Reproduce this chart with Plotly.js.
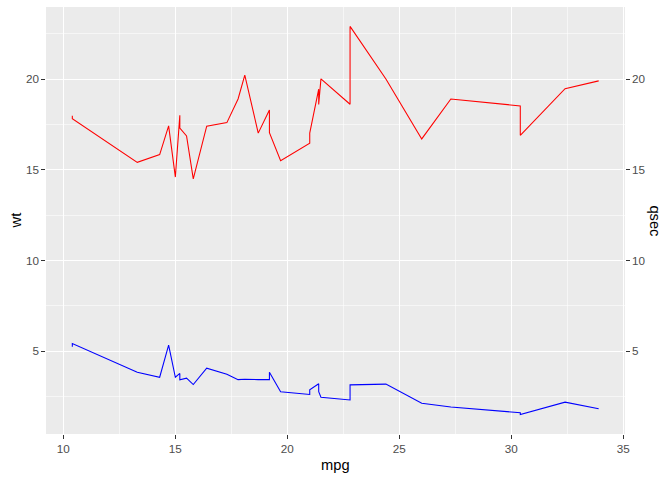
<!DOCTYPE html>
<html>
<head>
<meta charset="utf-8">
<script src="https://cdn.plot.ly/plotly-3.0.1.min.js"></script>
<style>
  html, body { margin: 0; padding: 0; background: #fff; }
  #plot { width: 672px; height: 480px; }
</style>
</head>
<body>
<div id="plot"></div>
<script>
// mtcars, ordered by mpg (geom_line sorts on x)
let mpg  = [10.4, 10.4, 13.3, 14.3, 14.7, 15.0, 15.2, 15.2, 15.5, 15.8, 16.4, 17.3, 17.8, 18.1, 18.7, 19.2, 19.2, 19.7, 21.0, 21.0, 21.4, 21.4, 21.5, 22.8, 22.8, 24.4, 26.0, 27.3, 30.4, 30.4, 32.4, 33.9]
let wt   = [5.250, 5.424, 3.840, 3.570, 5.345, 3.570, 3.780, 3.435, 3.520, 3.170, 4.070, 3.730, 3.440, 3.460, 3.440, 3.440, 3.845, 2.770, 2.620, 2.875, 3.215, 2.780, 2.465, 2.320, 3.150, 3.190, 2.140, 1.935, 1.615, 1.513, 2.200, 1.835]
let qsec = [17.98, 17.82, 15.41, 15.84, 17.42, 14.60, 18.00, 17.30, 16.87, 14.50, 17.40, 17.60, 18.90, 20.22, 17.02, 18.30, 17.05, 15.50, 16.46, 17.02, 19.44, 18.60, 20.01, 18.61, 22.90, 20.00, 16.70, 18.90, 18.52, 16.90, 19.47, 19.90]

let xTicks = [10, 15, 20, 25, 30, 35]
let yTicks = [5, 10, 15, 20]

let font = "Liberation Sans, Arial, sans-serif"

// ggplot default 5% expansion
let xmin = Math.min(...mpg), xmax = Math.max(...mpg)
let allY = wt.concat(qsec)
let ymin = Math.min(...allY), ymax = Math.max(...allY)
let xr = [xmin - 0.05 * (xmax - xmin), xmax + 0.05 * (xmax - xmin)]
let yr = [ymin - 0.05 * (ymax - ymin), ymax + 0.05 * (ymax - ymin)]

let baseAxis = {
    showgrid: true,
    gridcolor: "#FFFFFF",
    gridwidth: 1.07,
    zeroline: false,
    showline: false,
    ticks: "outside",
    ticklen: 3.7,
    tickwidth: 1.07,
    tickcolor: "#333333",
    tickfont: {family: font, size: 11.7, color: "#4D4D4D"},
    minor: {dtick: 2.5, showgrid: true, gridcolor: "#FFFFFF", gridwidth: 0.53, ticks: ""},
    fixedrange: true
}

let traces = [
    {x: mpg, y: wt, type: "scatter", mode: "lines", line: {color: "#0000FF", width: 1.07}, yaxis: "y", hoverinfo: "none"},
    {x: mpg, y: qsec, type: "scatter", mode: "lines", line: {color: "#FF0000", width: 1.07}, yaxis: "y2", hoverinfo: "none"}
]

let titleFont = {family: font, size: 14.7, color: "#000000"}

let layout = {
    width: 672,
    height: 480,
    margin: {l: 46, r: 47, t: 7, b: 46},
    paper_bgcolor: "#FFFFFF",
    plot_bgcolor: "#EBEBEB",
    showlegend: false,
    xaxis: Object.assign({}, baseAxis, {
        range: xr, tickvals: xTicks, ticktext: xTicks.map(String)
    }),
    yaxis: Object.assign({}, baseAxis, {
        range: yr, tickvals: yTicks, ticktext: yTicks.map(String)
    }),
    yaxis2: Object.assign({}, baseAxis, {
        range: yr, tickvals: yTicks, ticktext: yTicks.map(String),
        overlaying: "y", side: "right", showgrid: false,
        minor: {showgrid: false}
    }),
    annotations: [
        {text: "mpg", xref: "paper", yref: "paper", x: 0.5, y: -0.073, xanchor: "center", yanchor: "middle",
         showarrow: false, font: titleFont},
        {text: "wt", xref: "paper", yref: "paper", x: -0.052, y: 0.5, textangle: -90,
         xanchor: "center", yanchor: "middle", showarrow: false, font: titleFont},
        {text: "qsec", xref: "paper", yref: "paper", x: 1.052, y: 0.5, textangle: 90,
         xanchor: "center", yanchor: "middle", showarrow: false, font: titleFont}
    ]
}

Plotly.newPlot("plot", traces, layout, {displayModeBar: false, staticPlot: true})
</script>
</body>
</html>
